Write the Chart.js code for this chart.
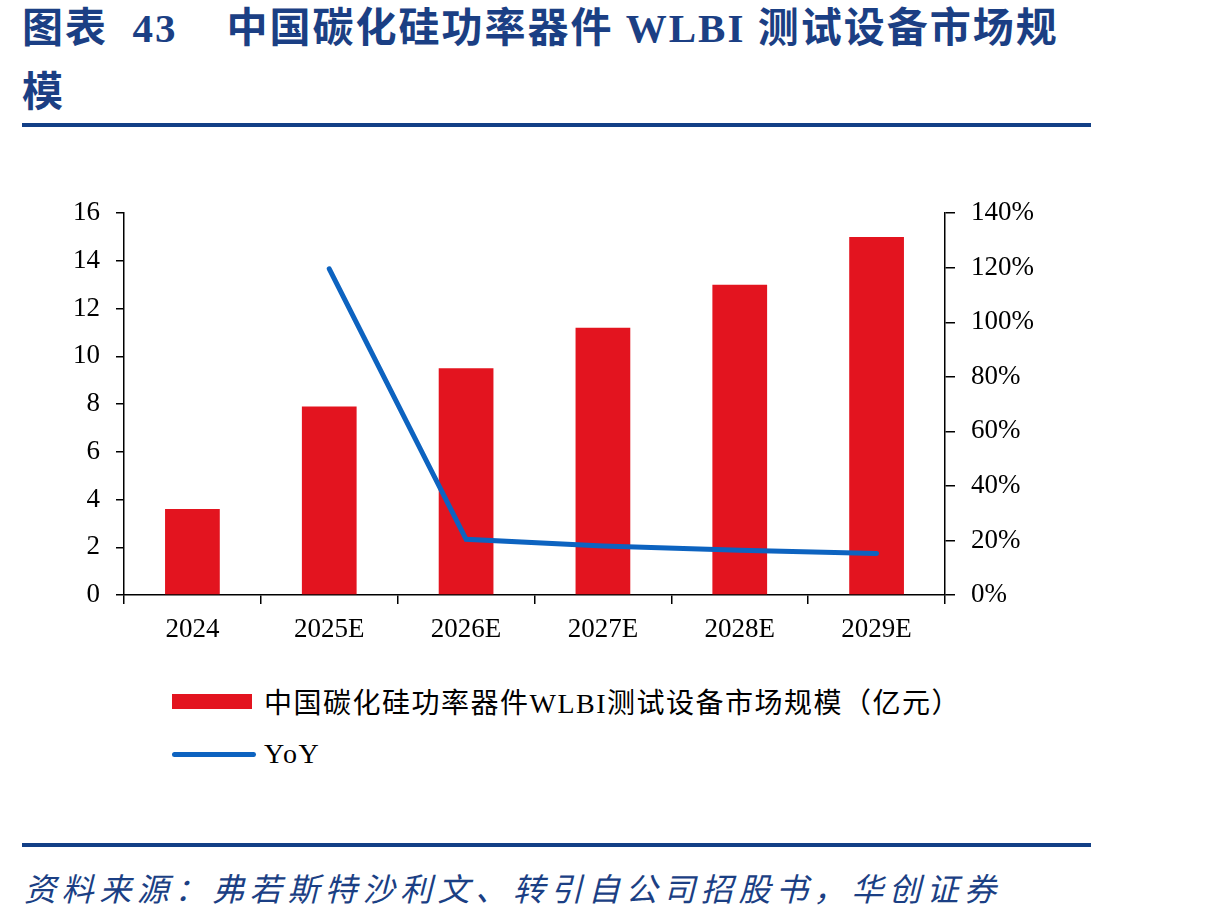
<!DOCTYPE html>
<html>
<head>
<meta charset="utf-8">
<script src="https://cdn.jsdelivr.net/npm/chart.js@4.4.1/dist/chart.umd.min.js"></script>
<style>
  body { margin: 0; background: #fff; width: 1205px; height: 921px; position: relative; overflow: hidden; }
  .title { position: absolute; left: 22px; top: -4px; font-family: "Liberation Serif", "Noto Sans CJK SC", serif; font-weight: bold; font-size: 41px; letter-spacing: 2px; line-height: 64px; color: #1b3f84; }
  .rule { position: absolute; left: 22px; width: 1069px; height: 4px; background: #123f86; }
  #wrap { position: absolute; left: 0; top: 181px; }
  .legend { position: absolute; left: 172px; font-family: "Liberation Serif", "Noto Sans CJK SC", serif; font-size: 28px; letter-spacing: 1.5px; color: #000; display: flex; align-items: center; }
  .swatch-bar { width: 80px; height: 15px; background: #e3141f; margin-right: 12px; }
  .swatch-line { width: 84px; height: 5px; border-radius: 3px; background: #0d63c0; margin-right: 8px; }
  .source { position: absolute; left: 24px; top: 864px; font-family: "Liberation Serif", "Noto Sans CJK SC", serif; font-style: italic; font-size: 32px; letter-spacing: 5.6px; color: #1b3f84; }
</style>
</head>
<body>
<div class="title">图表&nbsp; 43&nbsp;&nbsp;&nbsp; 中国碳化硅功率器件 WLBI 测试设备市场规<br>模</div>
<div class="rule" style="top:123px"></div>
<div id="wrap"><canvas id="chart" width="1100" height="479"></canvas></div>
<div class="legend" style="top:681px"><div class="swatch-bar"></div>中国碳化硅功率器件WLBI测试设备市场规模（亿元）</div>
<div class="legend" style="top:738px"><div class="swatch-line"></div>YoY</div>
<div class="rule" style="top:843px"></div>
<div class="source">资料来源：弗若斯特沙利文、转引自公司招股书，华创证券</div>
<script>
const years = ['2024', '2025E', '2026E', '2027E', '2028E', '2029E'];
const marketSize = [3.6, 7.9, 9.5, 11.2, 13.0, 15.0];
const yoy = [null, 119.6, 20.4, 18.0, 16.4, 15.2];

const tickFont = { family: '"Liberation Serif", serif', size: 27 };

document.addEventListener('DOMContentLoaded', function() {
    const ctx = document.getElementById('chart').getContext('2d');

    new Chart(ctx, {
        data: {
            labels: years,
            datasets: [
                {
                    type: 'line',
                    label: 'YoY',
                    data: yoy,
                    yAxisID: 'y1',
                    borderColor: '#0d63c0',
                    borderWidth: 5,
                    pointRadius: 0,
                    borderCapStyle: 'round',
                    tension: 0,
                    order: 0
                },
                {
                    type: 'bar',
                    label: '中国碳化硅功率器件WLBI测试设备市场规模（亿元）',
                    data: marketSize,
                    yAxisID: 'y',
                    backgroundColor: '#e3141f',
                    barPercentage: 0.4,
                    categoryPercentage: 1.0,
                    order: 1
                }
            ]
        },
        options: {
            responsive: false,
            animation: false,
            layout: { padding: { top: 12, left: 0, right: 0, bottom: 0 } },
            plugins: {
                legend: { display: false },
                tooltip: { enabled: false }
            },
            scales: {
                x: {
                    offset: true,
                    grid: { offset: true, drawOnChartArea: false, drawTicks: true, tickLength: 9, color: '#000', lineWidth: 1.5 },
                    border: { color: '#000', width: 1.5 },
                    ticks: { font: tickFont, color: '#000', padding: 10 },
                    afterFit: function(scale) { scale.height = 65; }
                },
                y: {
                    position: 'left',
                    min: 0,
                    max: 16,
                    grid: { drawOnChartArea: false, drawTicks: true, tickLength: 8, color: '#000', lineWidth: 1.5 },
                    border: { color: '#000', width: 1.5 },
                    ticks: { stepSize: 2, font: tickFont, color: '#000', padding: 16 },
                    afterFit: function(scale) { scale.width = 124; }
                },
                y1: {
                    position: 'right',
                    min: 0,
                    max: 140,
                    grid: { drawOnChartArea: false, drawTicks: true, tickLength: 10, color: '#000', lineWidth: 1.5 },
                    border: { color: '#000', width: 1.5 },
                    ticks: {
                        stepSize: 20,
                        font: tickFont,
                        color: '#000',
                        padding: 16,
                        callback: function(value) { return value + '%'; }
                    },
                    afterFit: function(scale) { scale.width = 155; }
                }
            }
        }
    });
});
</script>
</body>
</html>
